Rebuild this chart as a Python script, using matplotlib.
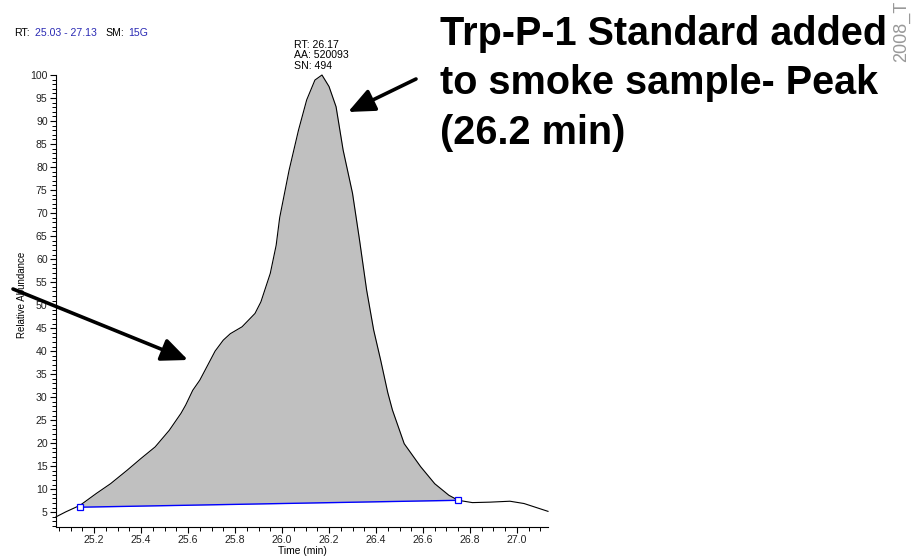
import numpy as np
import matplotlib
matplotlib.use('Agg')
import matplotlib.pyplot as plt
from matplotlib.ticker import MultipleLocator

plt.rcParams['font.family'] = ['Liberation Sans', 'DejaVu Sans']

# chromatogram trace
time_min = [25.038, 25.08, 25.14, 25.21, 25.27, 25.34, 25.40, 25.46, 25.52, 25.57,
            25.59, 25.62, 25.65, 25.68, 25.715, 25.75, 25.78, 25.83, 25.885, 25.91,
            25.95, 25.975, 25.99, 26.03, 26.07, 26.105, 26.14, 26.17, 26.20, 26.23,
            26.26, 26.30, 26.33, 26.36, 26.39, 26.42, 26.45, 26.47, 26.52, 26.59,
            26.65, 26.71, 26.75, 26.81, 26.885, 26.97, 27.03, 27.132]
abundance = [4.0, 5.1, 6.5, 9.1, 11.2, 14.1, 16.7, 19.2, 22.8, 26.5,
             28.3, 31.5, 33.7, 36.6, 40.0, 42.4, 43.8, 45.3, 48.2, 50.7,
             56.9, 63.0, 69.0, 79.3, 88.0, 94.6, 98.9, 100.0, 97.5, 93.1,
             83.7, 74.3, 64.1, 53.3, 44.6, 38.0, 31.0, 27.2, 19.9, 14.9,
             11.2, 8.7, 7.6, 7.1, 7.2, 7.4, 6.9, 5.2]

# integration baseline (start / end of the peak)
base_t = [25.14, 26.75]
base_y = [6.1, 7.6]

peak_rt = 26.17
peak_label = "RT: 26.17\nAA: 520093\nSN: 494"
title_text = "Trp-P-1 Standard added\nto smoke sample- Peak\n(26.2 min)"

t = np.array(time_min)
y = np.array(abundance)

fig = plt.figure(figsize=(9.13, 5.57), dpi=100)
ax = fig.add_axes([56 / 913, 30 / 557, 492 / 913, 452 / 557])

# filled peak area between trace and baseline
m = (t >= base_t[0]) & (t <= base_t[1])
ax.fill_between(t[m], y[m], np.interp(t[m], base_t, base_y), color='#c0c0c0', lw=0)
ax.plot(t, y, color='black', lw=0.8, clip_on=False)
ax.plot(base_t, base_y, color='#0000ff', lw=1.0, marker='s', ms=4,
        mfc='white', mec='#0000ff', mew=0.9)

ax.set_xlim(25.038, 27.132)
ax.set_ylim(1.8, 100)
for s in ['top', 'right']:
    ax.spines[s].set_visible(False)
ax.spines['left'].set_linewidth(0.8)
ax.spines['bottom'].set_linewidth(0.8)

ax.xaxis.set_minor_locator(MultipleLocator(0.05))
ax.yaxis.set_minor_locator(MultipleLocator(1))
ax.set_xticks(np.arange(25.2, 27.05, 0.2))
ax.set_xticklabels([f"{v:.1f}" for v in np.arange(25.2, 27.05, 0.2)])
ax.set_yticks(np.arange(5, 101, 5))
ax.tick_params(axis='both', which='major', length=4.5, width=0.8, labelsize=7.6, pad=1.5,
               colors='black', labelcolor='#222222')
ax.tick_params(axis='both', which='minor', length=3, width=0.7)

ax.set_xlabel("Time (min)", fontsize=7.4)
ax.xaxis.set_label_coords(0.5, -0.053)
ax.xaxis.label.set_va('center')
ax.set_ylabel("Relative Abundance", fontsize=7)
ax.yaxis.set_label_coords(-0.069, 0.513)
ax.yaxis.label.set_va('center')

ax.annotate(peak_label, xy=(peak_rt, 100), xytext=(-20, 3), textcoords='offset points',
            ha='left', va='bottom', fontsize=7.6, linespacing=1.05, annotation_clip=False)

# header line
hdr_y = 1 - 33 / 557
fig.text(14 / 913, hdr_y, "RT:", fontsize=7.6, va='center', color='black')
fig.text(35 / 913, hdr_y, "25.03 - 27.13", fontsize=7.6, va='center', color='#2a2ab4')
fig.text(105 / 913, hdr_y, "SM:", fontsize=7.6, va='center', color='black')
fig.text(128 / 913, hdr_y, "15G", fontsize=7.6, va='center', color='#2a2ab4')

# big annotation text
fig.text(440 / 913, 1 - 15 / 557, title_text, fontsize=28.5, fontweight='bold',
         va='top', ha='left', linespacing=1.38)
fig.text(902 / 913, 1 - 62 / 557, "2008_T", fontsize=13, color='#999999',
         rotation=90, ha='center', va='bottom')

arrow = dict(arrowstyle='-|>,head_length=0.8,head_width=0.35', lw=2.6, color='black',
             shrinkA=0, shrinkB=0, mutation_scale=20)
ax.annotate("", xy=(188 / 913, 1 - 360 / 557), xycoords='figure fraction',
            xytext=(13 / 913, 1 - 289 / 557), textcoords='figure fraction', arrowprops=arrow)
ax.annotate("", xy=(348 / 913, 1 - 112 / 557), xycoords='figure fraction',
            xytext=(416 / 913, 1 - 79 / 557), textcoords='figure fraction', arrowprops=arrow)

fig.savefig('out.png', dpi=100)
